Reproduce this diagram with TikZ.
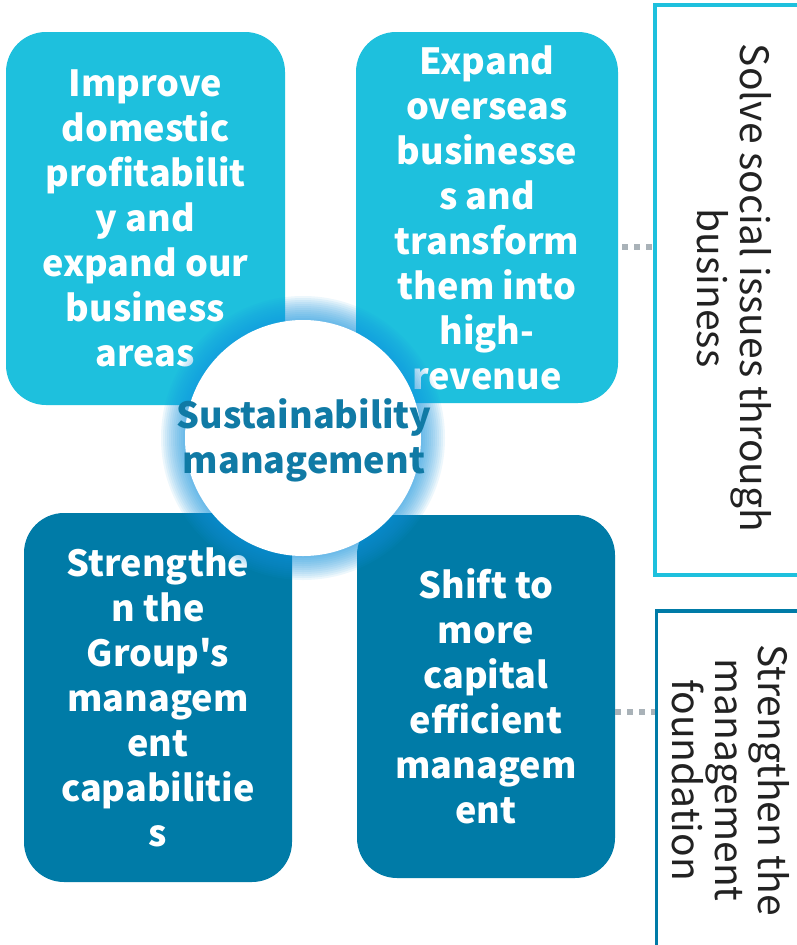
\documentclass[tikz,border=0pt]{standalone}
\usepackage{fontspec}
\newfontfamily\boxfont{Noto Sans CJK JP}
\newfontfamily\sidefont{Noto Sans CJK JP}
\definecolor{cyanbox}{RGB}{30,192,221}
\definecolor{darkbox}{RGB}{0,123,167}
\definecolor{glowblue}{RGB}{20,150,225}
\definecolor{centertext}{RGB}{16,122,165}
\definecolor{dotgray}{RGB}{169,178,184}
\definecolor{sidetext}{RGB}{34,34,34}
\tikzset{
  x=1pt, y=-1pt,
  quadfont/.style={font=\boxfont\bfseries\fontsize{36}{45}\selectfont},
  quad/.style={quadfont, rounded corners=40pt, inner sep=0pt, text=white, align=center},
  sidebox/.style={line width=3.5pt, fill=white},
  sidelabel/.style={rotate=-90, align=center, text=sidetext,
    font=\sidefont\fontsize{39}{43}\selectfont},
  dots/.style={line width=6pt, dash pattern=on 6pt off 6pt, draw=dotgray}
}
\begin{document}
\begin{tikzpicture}
\useasboundingbox (0,0) rectangle (797,945);
\clip (0,0) rectangle (797,945);
\fill[white] (0,0) rectangle (797,945);

% four quadrant boxes
\node[quad, fill=cyanbox, minimum width=279pt, minimum height=373pt] (tl) at (145.5,218.5)
  {Improve\\domestic\\profitabilit\\y and\\expand our\\business\\areas};
\node[quad, fill=cyanbox, minimum width=262pt, minimum height=371pt] (tr) at (487,217.5)
  {Expand\\overseas\\businesse\\s and\\transform\\them into\\high-\\revenue};
\node[quad, fill=darkbox, minimum width=268pt, minimum height=369pt] (bl) at (158,697.5)
  {Strengthe\\n the\\Group's\\managem\\ent\\capabilitie\\s};
\node[quad, fill=darkbox, minimum width=258pt, minimum height=363pt] (br) at (486,696.5)
  {Shift to\\more\\capital\\efficient\\managem\\ent};

% glow around the centre circle
\foreach \r in {142,140,...,120}
  \fill[glowblue, opacity=0.075] (303,438) circle (\r pt);
\node[circle, fill=white, minimum size=236pt, inner sep=0pt] (core) at (303,438) {};
\node[quadfont, text=centertext, align=center] (ctext) at (304,440)
  {Sustainability\\management};

% right side boxes
\draw[sidebox, draw=cyanbox] (655,5) rectangle (820,575);
\node[sidelabel] (s1) at (734,288) {Solve social issues through\\business};
\draw[sidebox, draw=darkbox] (656.5,611) rectangle (820,960);
\node[sidelabel] (s2) at (731,780) {Strengthen the\\management\\foundation};

% dotted connectors
\coordinate (c1a) at (622,247);
\coordinate (c1b) at (653,247);
\coordinate (c2a) at (615,712);
\coordinate (c2b) at (655,712);
\draw[dots] (c1a) -- (c1b);
\draw[dots] (c2a) -- (c2b);
\end{tikzpicture}
\end{document}
